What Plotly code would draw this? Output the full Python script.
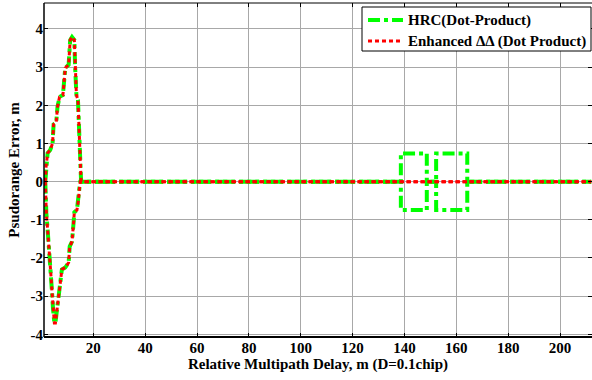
import plotly.graph_objects as go

# ---------------- data ----------------
# upper envelope branch (shared by both methods in the short-delay region)
delay_upper = [1.5, 1.8, 2.4, 3.4, 4.3, 4.7, 5.7, 6.2, 7.0, 8.3, 9.2, 10.5,
               11.1, 11.8, 12.7, 13.0, 13.5, 14.1, 14.6, 15.0, 15.3]
err_upper = [0.0, 0.39, 0.75, 0.83, 1.0, 1.5, 1.54, 1.96, 2.22, 2.27, 2.98, 3.06,
             3.71, 3.79, 3.71, 3.0, 2.27, 2.14, 1.0, 0.39, 0.0]

# lower envelope branch
delay_lower = [1.5, 1.6, 1.9, 2.4, 3.0, 3.4, 3.7, 4.1, 4.5, 5.0, 5.4, 6.0, 6.6,
               7.3, 7.9, 9.2, 10.5, 10.9, 11.8, 12.4, 12.7, 13.7, 14.3, 14.7, 15.0]
err_lower = [0.0, -0.3, -0.82, -1.26, -1.78, -2.04, -2.48, -2.9, -3.35, -3.7, -3.7,
             -3.35, -3.0, -2.56, -2.3, -2.25, -2.12, -1.7, -1.57, -1.08, -0.8,
             -0.74, -0.48, -0.14, 0.0]

# secondary HRC lobes (delay edges, m) and their magnitude (m)
hrc_lobe_edges = [(138.6, 148.6), (152.2, 164.2)]
hrc_lobe_err = 0.74

max_delay = 212.0

x_tick_vals = [20, 40, 60, 80, 100, 120, 140, 160, 180, 200]
x_tick_text = ["20", "40", "60", "80", "100", "120", "140", "160", "180", "200"]
y_tick_vals = [-4, -3, -2, -1, 0, 1, 2, 3, 4]
y_tick_text = ["-4", "-3", "-2", "-1", "0", "1", "2", "3", "4"]

names = ["HRC(Dot-Product)", "Enhanced \u0394\u0394 (Dot Product)"]


# ---------------- build series ----------------
def branch(dx, dy, sign, lobes):
    xs, ys = list(dx), list(dy)
    for a, b in lobes:
        xs += [a, a, b, b]
        ys += [0.0, sign * hrc_lobe_err, sign * hrc_lobe_err, 0.0]
    xs.append(max_delay)
    ys.append(0.0)
    return xs, ys


def series(lobes):
    ux, uy = branch(delay_upper, err_upper, 1, lobes)
    lx, ly = branch(delay_lower, err_lower, -1, lobes)
    return ux + [None] + lx, uy + [None] + ly


hrc_x, hrc_y = series(hrc_lobe_edges)
enh_x, enh_y = series([])

FONT = "Liberation Serif"
FS = 15
W, H = 592, 380
ML, MR, MT, MB = 44, 0, 3, 43
PW, PH = W - ML - MR, H - MT - MB

styles = [
    dict(color="#00ff00", width=4, dash="12px,4px,4px,4px"),
    dict(color="#ff0000", width=3, dash="4px,3px"),
]

fig = go.Figure()
fig.add_trace(go.Scatter(x=hrc_x, y=hrc_y, mode="lines", name=names[0],
                         line=styles[0], showlegend=False))
fig.add_trace(go.Scatter(x=enh_x, y=enh_y, mode="lines", name=names[1],
                         line=styles[1], showlegend=False))

axis_common = dict(
    showline=False, mirror="ticks", ticks="inside", ticklen=4,
    tickcolor="black", tickwidth=1, showgrid=True, gridcolor="#a8a8a8",
    gridwidth=1, zeroline=False,
    tickfont=dict(family=FONT, size=FS, color="black", weight="bold"),
)

fig.update_xaxes(
    range=[1.0, 212.3], tickvals=x_tick_vals, ticktext=x_tick_text,
    title=dict(text="Relative Multipath Delay, m (D=0.1chip)", standoff=3,
               font=dict(family=FONT, size=FS, color="black", weight="bold")),
    **axis_common,
)
fig.update_yaxes(
    range=[-4.07, 4.68], tickvals=y_tick_vals, ticktext=y_tick_text,
    title=dict(text="Psudorange Error, m", standoff=7,
               font=dict(family=FONT, size=FS, color="black", weight="bold")),
    **axis_common,
)

# axes box (left, bottom, top); right edge lies outside the picture
for x0, y0, x1, y1, w in [(0, 0, 0, 1, 1.5), (0, 0, 1, 0, 2), (0, 1, 1, 1, 1)]:
    fig.add_shape(type="line", xref="paper", yref="paper",
                  x0=x0, y0=y0, x1=x1, y1=y1,
                  line=dict(color="black", width=w), layer="above")


# ---------------- legend (drawn by hand for exact spacing) ----------------
def px(xp):
    return (xp - ML) / PW


def py(yp):
    return 1 - (yp - MT) / PH


fig.add_shape(type="rect", xref="paper", yref="paper",
              x0=px(362), x1=px(591), y0=py(51), y1=py(7),
              fillcolor="white", line=dict(color="black", width=1), layer="above")
for i, (name, st) in enumerate(zip(names, styles)):
    yc = 20 + 21 * i
    fig.add_shape(type="line", xref="paper", yref="paper",
                  x0=px(368), x1=px(403), y0=py(yc), y1=py(yc),
                  line=st, layer="above")
    fig.add_annotation(xref="paper", yref="paper", x=px(406), y=py(yc + 0.5),
                       xanchor="left", yanchor="middle", showarrow=False,
                       text=name,
                       font=dict(family=FONT, size=FS, color="black", weight="bold"))

fig.update_layout(
    width=W, height=H,
    margin=dict(l=ML, r=MR, t=MT, b=MB),
    paper_bgcolor="white", plot_bgcolor="white",
    showlegend=False,
)

fig.write_html(
    "out.html",
    config={"displayModeBar": False},
    post_script="document.body.style.margin='0';document.body.style.overflow='hidden';",
)
